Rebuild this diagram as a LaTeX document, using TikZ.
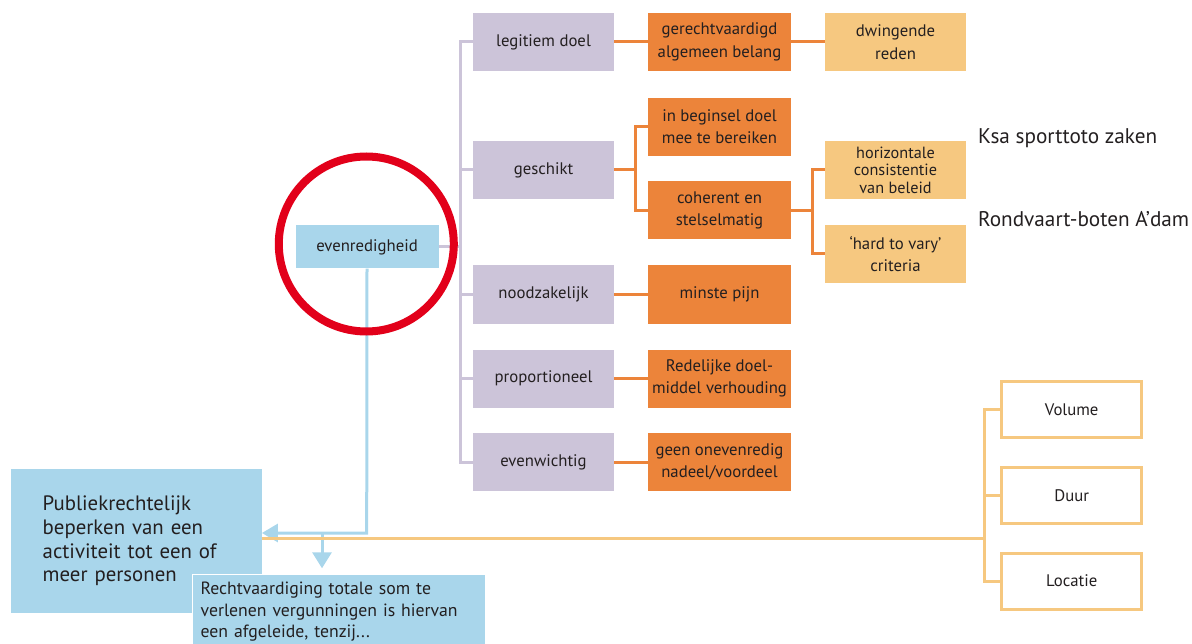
\documentclass[tikz,border=0pt]{standalone}
\usepackage{fontspec}
\setmainfont{PT Sans}
\usetikzlibrary{arrows.meta}
\definecolor{lav}{RGB}{204,196,217}
\definecolor{orng}{RGB}{236,132,58}
\definecolor{lyel}{RGB}{246,200,128}
\definecolor{lblue}{RGB}{169,214,235}
\definecolor{cred}{RGB}{226,0,26}
\definecolor{txt}{RGB}{35,31,32}
\begin{document}
\begin{tikzpicture}[x=1bp,y=-1bp,
 base/.style={inner sep=0pt, align=center, font=\fontsize{16.8}{22.5}\selectfont, text=txt},
 pbox/.style={base, fill=lav, minimum width=141bp, minimum height=58bp},
 obox/.style={base, fill=orng, minimum width=143bp, minimum height=58bp},
 ybox/.style={base, fill=lyel, minimum width=141bp, minimum height=58bp},
 wbox/.style={base, draw=lyel, line width=3bp, fill=white, minimum width=140bp, minimum height=56bp},
 bbox/.style={base, fill=lblue},
 pline/.style={draw=lav, line width=3bp},
 oline/.style={draw=orng, line width=3bp},
 yline/.style={draw=lyel, line width=3bp},
 bline/.style={draw=lblue, line width=3bp},
 side/.style={inner sep=0pt, anchor=base west, text=txt, font=\fontsize{21.3}{25}\selectfont},
]
\useasboundingbox (0,0) rectangle (1192,644);
% purple column
\node[pbox] (leg) at (543.5,42) {legitiem doel};
\node[pbox] (ges) at (543.5,170) {geschikt};
\node[pbox] (noo) at (543.5,294.5) {noodzakelijk};
\node[pbox] (pro) at (543.5,378.5) {proportioneel};
\node[pbox] (evw) at (543.5,462) {evenwichtig};
% orange column
\node[obox] (ger) at (719.5,42) {gerechtvaardigd\\algemeen belang};
\node[obox] (beg) at (719.5,126.7) {in beginsel doel\\mee te bereiken};
\node[obox] (coh) at (719.5,210.5) {coherent en\\stelselmatig};
\node[obox] (min) at (719.5,294.5) {minste pijn};
\node[obox] (red) at (719.5,378.5) {Redelijke doel-\\middel verhouding};
\node[obox] (gee) at (719.5,462) {geen onevenredig\\nadeel/voordeel};
% light orange column
\node[ybox] (dwi) at (895.5,42) {dwingende\\reden};
\node[ybox, font=\fontsize{16.3}{17.5}\selectfont] (hor) at (895.5,170) {horizontale\\consistentie\\van beleid};
\node[ybox] (har) at (895.5,254) {‘hard to vary’\\criteria};
% side labels
\node[side] (ksa) at (978,143.3) {Ksa sporttoto zaken};
\node[side] (ron) at (978,226.7) {Rondvaart-boten A’dam};
% outlined boxes
\node[wbox] (vol) at (1071.7,409.7) {Volume};
\node[wbox] (duu) at (1071.7,495.8) {Duur};
\node[wbox] (loc) at (1071.7,581) {Locatie};
% blue boxes
\node[bbox, minimum width=143bp, minimum height=43bp] (evr) at (367,247) {evenredigheid};
\node[bbox, minimum width=251bp, minimum height=144bp, text width=187bp, align=left,
      font=\fontsize{20.9}{23.7}\selectfont] (pub) at (136.2,541)
      {Publiekrechtelijk\\beperken van een\\activiteit tot een of\\meer personen};
\node[bbox, draw=white, line width=1bp, anchor=north west, minimum width=292.7bp, minimum height=74bp,
      text width=277bp, align=left, font=\fontsize{17.8}{21.7}\selectfont] (rec) at (192.3,574.3)
      {Rechtvaardiging totale som te\\verlenen vergunningen is hiervan\\een afgeleide, tenzij...};
% purple connectors
\coordinate (pt) at (460,0);
\draw[pline] (leg.west) -- (leg.west -| pt) -- (evw.west -| pt) -- (evw.west);
\draw[pline] (ges.west -| pt) -- (ges.west);
\draw[pline] (noo.west -| pt) -- (noo.west);
\draw[pline] (pro.west -| pt) -- (pro.west);
\draw[pline] (evr.east) -- (evr.east -| pt);
% orange connectors
\draw[oline] (leg.east) -- (ger.west);
\draw[oline] (ger.east) -- (dwi.west);
\draw[oline] (noo.east) -- (min.west);
\draw[oline] (pro.east) -- (red.west);
\draw[oline] (evw.east) -- (gee.west);
\coordinate (ob) at (635.7,0);
\draw[oline] (ges.east) -- (ges.east -| ob);
\draw[oline] (beg.west) -- (beg.west -| ob) -- (coh.west -| ob) -- (coh.west);
\coordinate (oc) at (812.7,0);
\draw[oline] (coh.east) -- (coh.east -| oc);
\draw[oline] (hor.west) -- (hor.west -| oc) -- (har.west -| oc) -- (har.west);
% blue connectors
\coordinate (bj) at (366.7,533);
\coordinate (bd) at (322,533);
\draw[bline, -{Triangle[length=16bp,width=18bp]}] (evr.south) -- (bj) -- (bj -| pub.east);
\draw[bline, -{Triangle[length=16bp,width=19bp]}, shorten >=6bp] (bd) -- (bd |- rec.north);
% yellow connectors
\coordinate (yj) at (984.3,538.5);
\draw[yline] (pub.east |- yj) -- (yj);
\draw[yline] (vol.west) -- (vol.west -| yj) -- (loc.west -| yj) -- (loc.west);
\draw[yline] (duu.west -| yj) -- (duu.west);
% red circle
\draw[cred, line width=8bp] (366.3,244) circle[radius=87.5];
\end{tikzpicture}
\end{document}
